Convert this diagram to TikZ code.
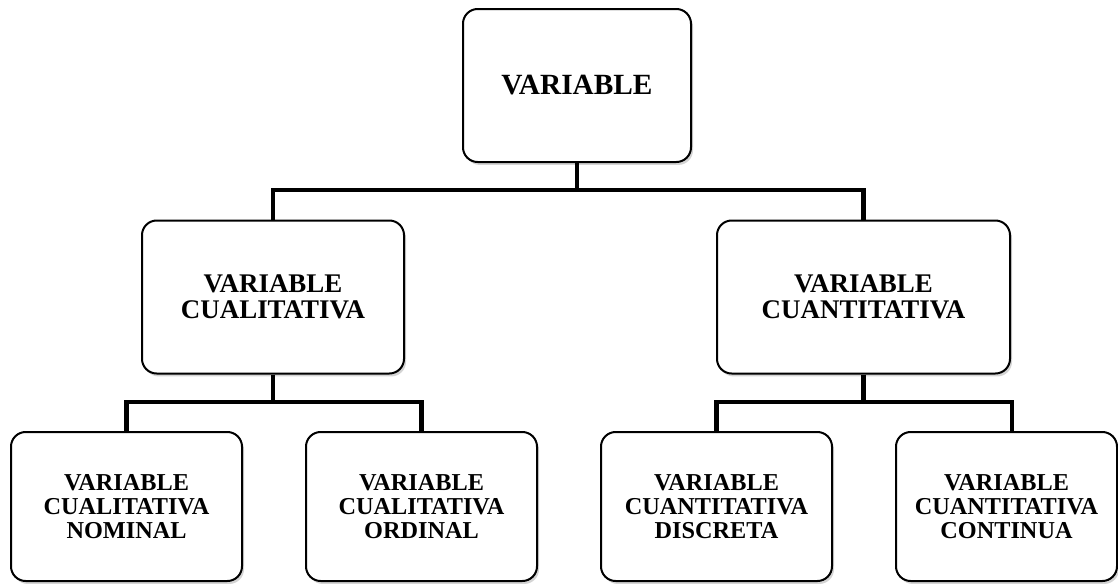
\documentclass[tikz,border=0pt]{standalone}
\usepackage{fontspec}
\setmainfont{Liberation Serif}
\usetikzlibrary{shadows}
\begin{document}
\begin{tikzpicture}[x=0.75pt,y=-0.75pt,
  box/.style={draw=black, line width=1.5pt, rounded corners=11pt, fill=white,
    align=center, font=\bfseries, inner sep=0pt,
    drop shadow={opacity=0.28, shadow xshift=1.5pt, shadow yshift=-2.2pt, fill=black!60}},
  topbox/.style={box, minimum width=171pt, minimum height=114.75pt, font=\fontsize{22pt}{23pt}\selectfont\bfseries},
  midbox/.style={box, minimum width=#1, minimum height=114.75pt, font=\fontsize{20.2pt}{19.6pt}\selectfont\bfseries},
  lowbox/.style={box, minimum width=#1, minimum height=111.75pt, font=\fontsize{18.2pt}{17.7pt}\selectfont\bfseries},
  conn/.style={draw=black, line width=3.4pt}]
\useasboundingbox (0,0) rectangle (1118,583);
\begin{scope}
\clip (0,0) rectangle (1118,583);
\node[topbox] (top) at (577,85.5) {VARIABLE};
\node[midbox=196.5pt] (ql) at (273,297) {VARIABLE\\CUALITATIVA};
\node[midbox=219.75pt] (qn) at (863.5,297) {VARIABLE\\CUANTITATIVA};
\node[lowbox=173.25pt] (n1) at (126.5,506.5) {VARIABLE\\CUALITATIVA\\NOMINAL};
\node[lowbox=173.25pt] (n2) at (421.5,506.5) {VARIABLE\\CUALITATIVA\\ORDINAL};
\node[lowbox=173.25pt] (n3) at (716.5,506.5) {VARIABLE\\CUANTITATIVA\\DISCRETA};
\node[lowbox=165.75pt] (n4) at (1006.5,506.5) {VARIABLE\\CUANTITATIVA\\CONTINUA};
\end{scope}
\coordinate (b1) at (577,190);
\coordinate (b2) at (273,402);
\coordinate (b3) at (863.5,402);
\coordinate (d4) at ([xshift=4pt]n4.north);
\draw[conn] (top.south) -- (b1);
\draw[conn] (ql.north) |- (b1) -| (qn.north);
\draw[conn] (ql.south) -- (b2);
\draw[conn] (n1.north) |- (b2) -| (n2.north);
\draw[conn] (qn.south) -- (b3);
\draw[conn] (n3.north) |- (b3) -| (d4);
\end{tikzpicture}
\end{document}
